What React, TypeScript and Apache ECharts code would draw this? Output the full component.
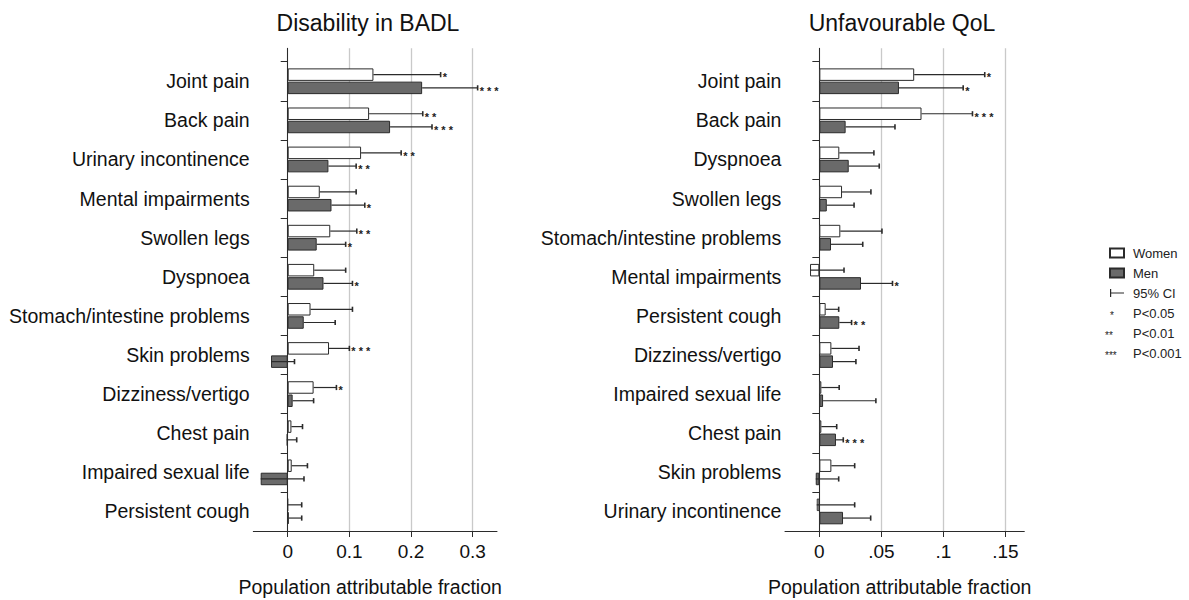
import React, { useEffect, useRef } from 'react';
import * as echarts from 'echarts';

// ---------- Data ----------
const leftTitle = 'Disability in BADL';
const rightTitle = 'Unfavourable QoL';
const xAxisName = 'Population attributable fraction';

const leftCategories = [
  'Joint pain', 'Back pain', 'Urinary incontinence', 'Mental impairments', 'Swollen legs', 'Dyspnoea',
  'Stomach/intestine problems', 'Skin problems', 'Dizziness/vertigo', 'Chest pain', 'Impaired sexual life', 'Persistent cough',
];
const leftWomen = [0.139, 0.132, 0.119, 0.052, 0.069, 0.043, 0.037, 0.067, 0.042, 0.006, 0.0065, 0.0];
const leftWomenCI = [0.248, 0.219, 0.184, 0.111, 0.112, 0.094, 0.105, 0.1, 0.079, 0.024, 0.032, 0.0227];
const leftWomenStars = [1, 2, 2, 0, 2, 0, 0, 3, 1, 0, 0, 0];
const leftMen = [0.218, 0.166, 0.066, 0.071, 0.047, 0.058, 0.026, -0.027, 0.008, -0.0016, -0.0438, 0.0016];
const leftMenCI = [0.308, 0.234, 0.111, 0.125, 0.094, 0.105, 0.077, 0.011, 0.042, 0.0146, 0.0264, 0.0227];
const leftMenStars = [3, 3, 2, 1, 1, 1, 0, 0, 0, 0, 0, 0];
const leftTicks = [0, 0.1, 0.2, 0.3];

const rightCategories = [
  'Joint pain', 'Back pain', 'Dyspnoea', 'Swollen legs', 'Stomach/intestine problems', 'Mental impairments',
  'Persistent cough', 'Dizziness/vertigo', 'Impaired sexual life', 'Chest pain', 'Skin problems', 'Urinary incontinence',
];
const rightWomen = [0.0765, 0.0824, 0.0161, 0.0183, 0.0169, -0.0075, 0.0051, 0.0097, 0.0016, 0.0016, 0.0097, -0.0021];
const rightWomenCI = [0.1334, 0.1235, 0.044, 0.0416, 0.0505, 0.0199, 0.0156, 0.032, 0.016, 0.014, 0.0285, 0.0285];
const rightWomenStars = [1, 3, 0, 0, 0, 0, 0, 0, 0, 0, 0, 0];
const rightMen = [0.0642, 0.0212, 0.0237, 0.006, 0.0094, 0.0336, 0.0161, 0.011, 0.003, 0.0134, -0.0029, 0.0191];
const rightMenCI = [0.116, 0.061, 0.0483, 0.028, 0.035, 0.059, 0.026, 0.0295, 0.0456, 0.0193, 0.0156, 0.0414];
const rightMenStars = [1, 0, 0, 0, 0, 1, 2, 0, 0, 3, 0, 0];
const rightTicks = [0, 0.05, 0.1, 0.15];

const legendNames = ['Women', 'Men', '95% CI'];
const starLegend = [
  { stars: '*', label: 'P<0.05' },
  { stars: '**', label: 'P<0.01' },
  { stars: '***', label: 'P<0.001' },
];

// ---------- Styles ----------
const FONT = '"Liberation Sans", Arial, Helvetica, sans-serif';
const INK = '#2b2b2b';
const MEN_FILL = '#6a6a6a';
const GRID_GRAY = '#c9c9c9';

function ciData(ci: number[], vals: number[], stars: number[], sex: number) {
  return ci.map((c, i) => [c, i, vals[i], sex, stars[i]]);
}

function ciSeries(axisIdx: number, data: number[][]) {
  return {
    type: 'custom',
    name: '95% CI',
    xAxisIndex: axisIdx,
    yAxisIndex: axisIdx,
    itemStyle: { color: INK },
    encode: { x: 0, y: 1 },
    clip: false,
    z: 5,
    data,
    renderItem: (params: any, api: any) => {
      const ci = api.value(0);
      const idx = api.value(1);
      const val = api.value(2);
      const sex = api.value(3);
      const nStars = api.value(4);
      const band = api.size([0, 1])[1];
      const off = (sex === 0 ? -1 : 1) * band * 0.169;
      const p0 = api.coord([val, idx]);
      const p1 = api.coord([ci, idx]);
      const y = p0[1] + off;
      const children: any[] = [
        { type: 'line', shape: { x1: p0[0], y1: y, x2: p1[0], y2: y }, style: { stroke: INK, lineWidth: 1.2 } },
        { type: 'line', shape: { x1: p1[0], y1: y - 2.6, x2: p1[0], y2: y + 2.6 }, style: { stroke: INK, lineWidth: 1.6 } },
      ];
      if (nStars > 0) {
        children.push({
          type: 'text',
          x: p1[0] + 2,
          y: y + 2.8,
          style: {
            text: Array(nStars).fill('*').join(' '),
            font: `bold 11px ${FONT}`,
            fill: '#222',
            align: 'left',
            verticalAlign: 'middle',
          },
        });
      }
      return { type: 'group', children };
    },
  };
}

function barSeries(name: string, axisIdx: number, data: number[]) {
  const women = name === 'Women';
  return {
    type: 'bar',
    name,
    xAxisIndex: axisIdx,
    yAxisIndex: axisIdx,
    data,
    barWidth: 12.5,
    barGap: '6%',
    itemStyle: { color: women ? '#ffffff' : MEN_FILL, borderColor: INK, borderWidth: 1 },
  };
}

const GRID_TOP_OUTER = 48.3;
const GRID_TOP_INNER = 61.7;
const GRID_BOTTOM = 531;

type Panel = { left: number; width: number; min: number; max: number };
const LEFT: Panel = { left: 253.3, width: 243.7, min: -0.0558, max: 0.3394 };
const RIGHT: Panel = { left: 785, width: 239.3, min: -0.0277, max: 0.1653 };

// pixel distance from grid's left edge to the value-0 position (derived from the axis extent)
const zeroShift = (p: Panel) => ((0 - p.min) / (p.max - p.min)) * p.width;

function outerX(gridIndex: number, p: Panel, ticks: number[], fmt: (v: number) => string) {
  return {
    type: 'value',
    gridIndex,
    min: p.min,
    max: p.max,
    name: xAxisName,
    nameLocation: 'middle',
    nameGap: 46,
    nameTextStyle: { fontFamily: FONT, fontSize: 19.5, color: '#111', padding: [0, 10, 0, 0] },
    axisLine: { show: true, onZero: false, lineStyle: { color: INK, width: 1 } },
    axisTick: { show: true, length: 6, customValues: ticks, lineStyle: { color: INK, width: 1 } },
    axisLabel: { customValues: ticks, formatter: fmt, margin: 11, fontFamily: FONT, fontSize: 19, color: '#111' },
    splitLine: { show: true, lineStyle: { color: GRID_GRAY, width: 1.3 } },
  };
}

function innerX(gridIndex: number, p: Panel) {
  return { type: 'value', gridIndex, min: p.min, max: p.max, show: false, splitLine: { show: false } };
}

function outerY(gridIndex: number, p: Panel) {
  return {
    type: 'value',
    gridIndex,
    min: 0,
    max: 1,
    offset: -zeroShift(p),
    axisLine: { show: true, onZero: false, lineStyle: { color: INK, width: 1 } },
    axisTick: { show: false },
    axisLabel: { show: false },
    splitLine: { show: false },
  };
}

function innerY(gridIndex: number, p: Panel, cats: string[]) {
  return {
    type: 'category',
    gridIndex,
    inverse: true,
    data: cats,
    offset: -zeroShift(p),
    axisLine: { show: false, onZero: false },
    axisTick: { show: true, length: 7, lineStyle: { color: INK, width: 1 } },
    axisLabel: { margin: 38, fontFamily: FONT, fontSize: 19.5, color: '#111' },
    splitLine: { show: false },
  };
}

const gridBase = { outerBoundsMode: 'none', containLabel: false };

const option: any = {
  animation: false,
  backgroundColor: '#ffffff',
  textStyle: { fontFamily: FONT },
  title: [
    { text: leftTitle, left: 368, top: 11, textAlign: 'center', padding: 0, textStyle: { fontFamily: FONT, fontSize: 23, fontWeight: 'normal', color: '#111' } },
    { text: rightTitle, left: 902, top: 11, textAlign: 'center', padding: 0, textStyle: { fontFamily: FONT, fontSize: 23, fontWeight: 'normal', color: '#111' } },
  ],
  legend: {
    orient: 'vertical',
    left: 1104,
    top: 241,
    itemWidth: 14,
    itemHeight: 9,
    itemGap: 6,
    selectedMode: false,
    textStyle: { fontFamily: FONT, fontSize: 13, color: '#222', lineHeight: 14, padding: [0, 0, 0, 4] },
    data: [
      { name: legendNames[0], icon: 'rect' },
      { name: legendNames[1], icon: 'rect' },
      { name: legendNames[2], icon: 'path://M0,0 L1.2,0 L1.2,3.4 L14,3.4 L14,4.6 L1.2,4.6 L1.2,8 L0,8 Z' },
    ],
  },
  grid: [
    { ...gridBase, left: LEFT.left, width: LEFT.width, top: GRID_TOP_OUTER, height: GRID_BOTTOM - GRID_TOP_OUTER },
    { ...gridBase, left: LEFT.left, width: LEFT.width, top: GRID_TOP_INNER, height: GRID_BOTTOM - GRID_TOP_INNER },
    { ...gridBase, left: RIGHT.left, width: RIGHT.width, top: GRID_TOP_OUTER, height: GRID_BOTTOM - GRID_TOP_OUTER },
    { ...gridBase, left: RIGHT.left, width: RIGHT.width, top: GRID_TOP_INNER, height: GRID_BOTTOM - GRID_TOP_INNER },
  ],
  xAxis: [
    outerX(0, LEFT, leftTicks, (v: number) => String(v)),
    innerX(1, LEFT),
    outerX(2, RIGHT, rightTicks, (v: number) => (v === 0 ? '0' : String(v).replace(/^0/, ''))),
    innerX(3, RIGHT),
  ],
  yAxis: [outerY(0, LEFT), innerY(1, LEFT, leftCategories), outerY(2, RIGHT), innerY(3, RIGHT, rightCategories)],
  series: [
    barSeries('Women', 1, leftWomen),
    barSeries('Men', 1, leftMen),
    ciSeries(1, [...ciData(leftWomenCI, leftWomen, leftWomenStars, 0), ...ciData(leftMenCI, leftMen, leftMenStars, 1)]),
    barSeries('Women', 3, rightWomen),
    barSeries('Men', 3, rightMen),
    ciSeries(3, [...ciData(rightWomenCI, rightWomen, rightWomenStars, 0), ...ciData(rightMenCI, rightMen, rightMenStars, 1)]),
  ],
  graphic: starLegend.map((s, i) => ({
    type: 'group',
    x: 1104,
    y: 313 + i * 20,
    children: [
      {
        type: 'text',
        x: s.stars.length === 1 ? 6 : 1,
        y: 2,
        style: { text: s.stars, font: `10px ${FONT}`, fill: '#222', align: 'left', verticalAlign: 'middle' },
      },
      {
        type: 'text',
        x: 29,
        y: 0,
        style: { text: s.label, font: `13px ${FONT}`, fill: '#222', align: 'left', verticalAlign: 'middle' },
      },
    ],
  })),
};

export default function App() {
  const ref = useRef<HTMLDivElement>(null);
  useEffect(() => {
    if (!ref.current) return;
    const chart = echarts.init(ref.current, null, { renderer: 'svg' });
    chart.setOption(option);
    return () => chart.dispose();
  }, []);
  return (
    <div
      ref={ref}
      style={{ position: 'absolute', left: 0, top: 0, width: 1189, height: 600, background: '#fff' }}
    />
  );
}
